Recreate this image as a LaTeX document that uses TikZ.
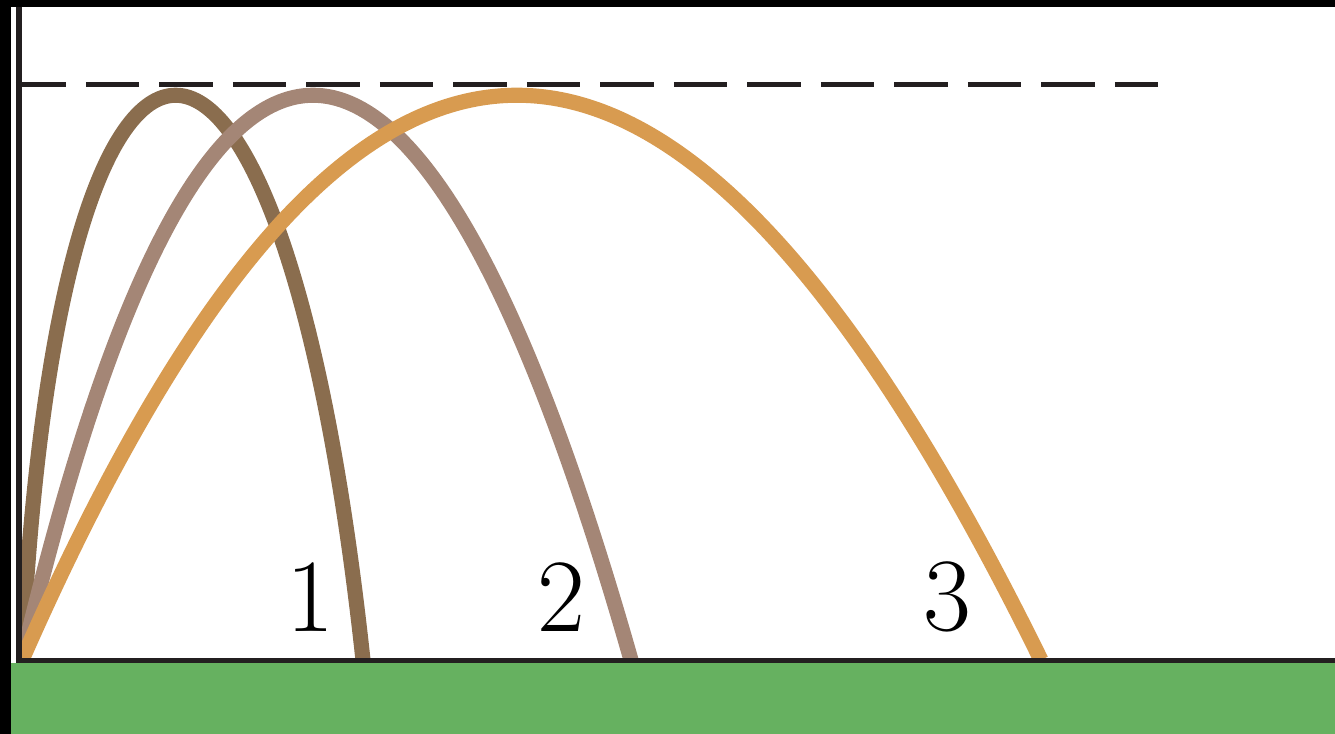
\documentclass[tikz,border=0pt]{standalone}
\usetikzlibrary{positioning}
\definecolor{trajone}{RGB}{138,109,78}
\definecolor{trajtwo}{RGB}{164,134,118}
\definecolor{trajthree}{RGB}{216,155,80}
\definecolor{grass}{RGB}{102,177,96}
\definecolor{axisgray}{RGB}{35,31,32}
\tikzset{
  traj/.style={line width=4.3pt, draw=#1},
  axisline/.style={line width=1.7pt, draw=axisgray},
  maxline/.style={line width=1.45pt, draw=axisgray, dash pattern=on 15.1pt off 5.8pt, dash phase=1pt},
  lbl/.style={font=\fontsize{29.6pt}{30pt}\selectfont, inner sep=0pt},
}

\begin{document}
\begin{tikzpicture}[x=0.01cm, y=-0.01cm]
    \useasboundingbox (0,0) rectangle (1335,734);
    \coordinate (launch) at (22,660);
    \coordinate (land1) at (363,660);
    \coordinate (land2) at (631,660);
    \coordinate (land3) at (1041,660);
    % trajectories
    \begin{scope}
      \clip (19,7) rectangle (1335,660);
      \draw[traj=trajone] (launch) .. controls (58,-93) and (282,-93) .. (land1);
      \draw[traj=trajtwo] (launch) .. controls (200,-93) and (417,-93) .. (land2);
      \draw[traj=trajthree] (launch) .. controls (353,-93) and (671,-93) .. (land3);
    \end{scope}
    % ground and axes
    \fill[grass] (11,663) rectangle (1335,734);
    \draw[maxline] (16,84.5) -- (1158,84.5);
    \draw[axisline] (16,660.5) -- (1335,660.5);
    \draw[axisline] (19,7) -- (19,663);
    \fill[black] (0,0) rectangle (1335,7);
    \fill[black] (0,0) rectangle (11,734);
    % labels
    \node[lbl] (one) at (310,597) {1};
    \node[lbl] (two) at (561,597) {2};
    \node[lbl] (three) at (947,597) {3};
\end{tikzpicture}
\end{document}
